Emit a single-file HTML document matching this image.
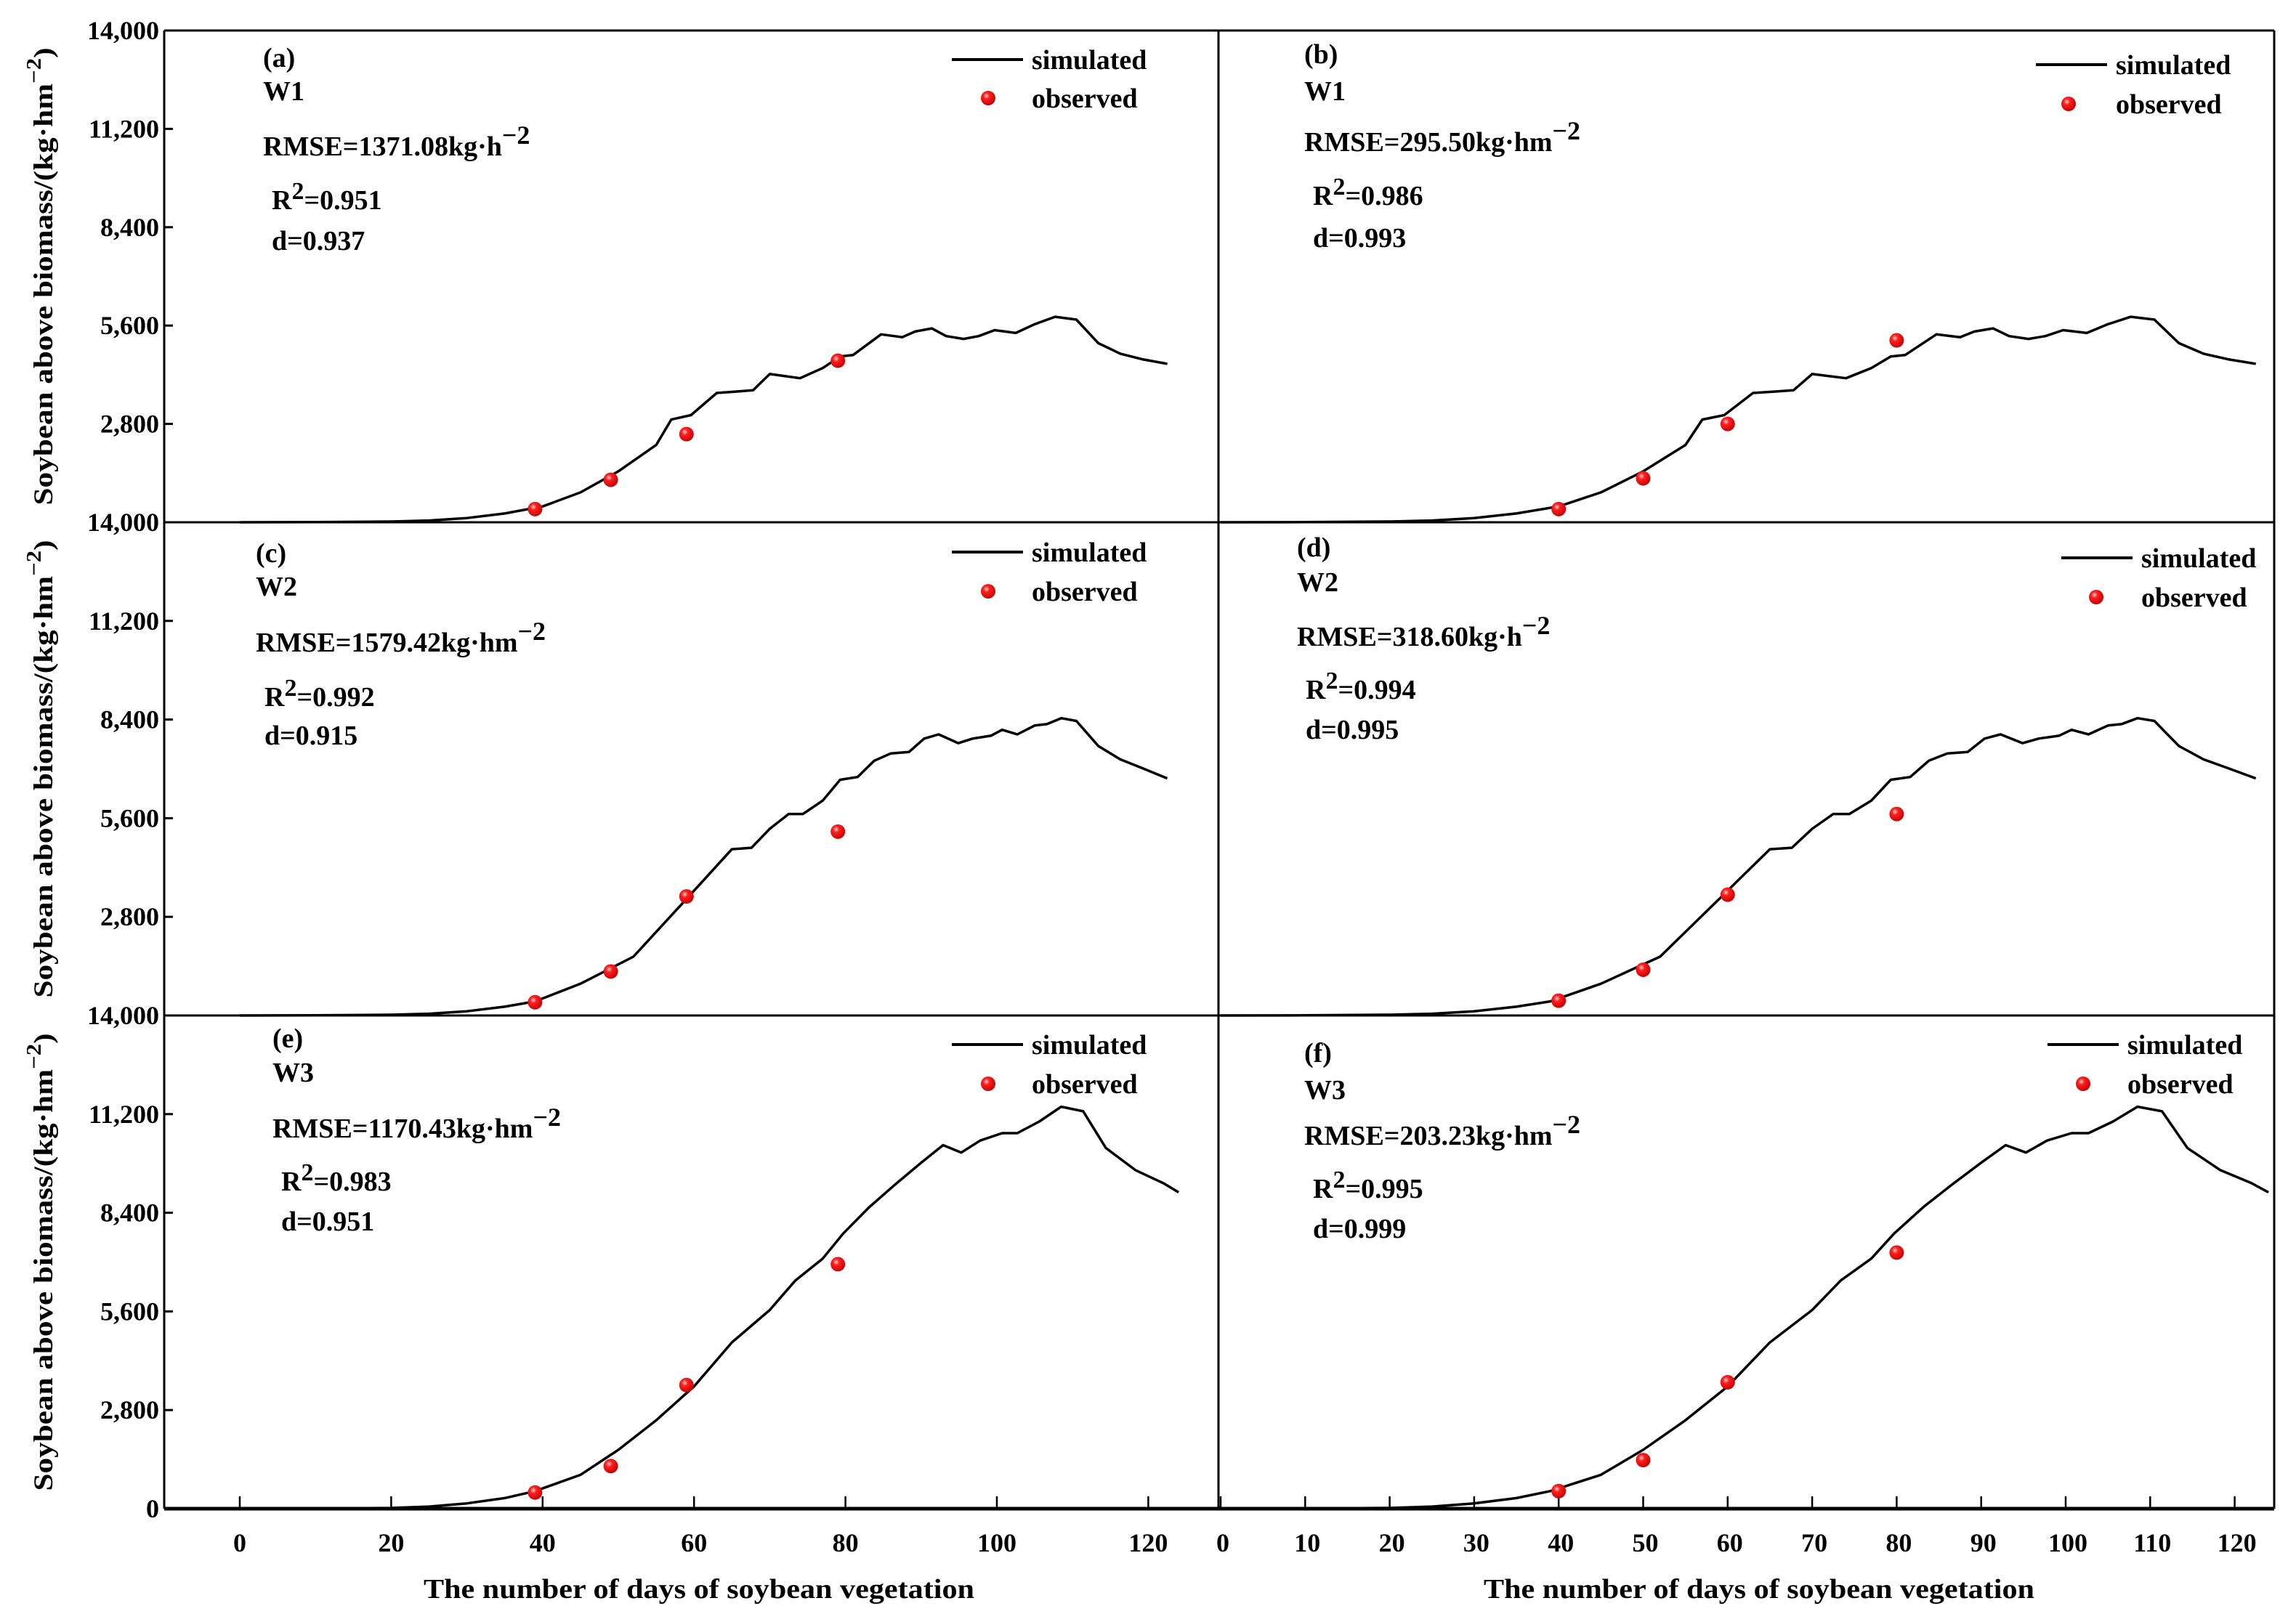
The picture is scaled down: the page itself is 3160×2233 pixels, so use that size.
<!DOCTYPE html>
<html><head><meta charset="utf-8"><style>
html,body{margin:0;padding:0;background:#fff}
svg{display:block}
text{font-family:"Liberation Serif","DejaVu Serif",serif;font-weight:bold;fill:#000}
</style></head><body>
<svg id="chart" width="3160" height="2233" viewBox="0 0 3160 2233" xmlns="http://www.w3.org/2000/svg">
<defs>
<radialGradient id="ball" cx="0.38" cy="0.35" r="0.7">
<stop offset="0" stop-color="#ffd0d0"/><stop offset="0.3" stop-color="#ff2020"/><stop offset="1" stop-color="#c00000"/>
</radialGradient>
</defs>
</svg>
<script>
// ---- data ----
const simDays1 = [0,10,20,25,30,35,40,45,50,55,57,59.6,63,65.5,67.8,70,74,77,79.3,81,84.7,87.5,89.2,91.4,93.3,95.6,97.6,99.7,102.5,105,107.7,110.5,113.4,116.3,119.2,122.5];
const simW1 = [0,5,20,50,120,250,450,850,1450,2200,2925,3050,3680,3720,3760,4220,4100,4390,4720,4760,5350,5270,5430,5520,5300,5220,5300,5470,5390,5640,5850,5770,5100,4800,4640,4510];
const simDays2 = [0,10,20,25,30,35,39,45,52,58.8,65,67.6,70,72.5,74.4,77,79.3,81.6,83.8,86,88.4,90.4,92.3,94.9,96.8,99.2,100.7,102.7,105,106.6,108.5,110.5,113.4,116.3,119.2,122.5];
const simW2 = [0,5,20,50,120,250,400,900,1670,3260,4720,4760,5300,5720,5720,6100,6690,6770,7230,7440,7480,7860,7980,7730,7860,7940,8110,7980,8230,8270,8440,8360,7650,7270,7020,6730];
const simDays3 = [0,10,20,25,30,35,39,45,50,55,60,65,70,73.4,77,79.7,83.2,86.5,90,92.9,95.3,97.8,100.7,102.7,105.6,108.5,111.4,114.4,118.3,122,124];
const simW3 = [0,5,20,60,150,300,500,960,1670,2510,3470,4720,5640,6480,7100,7810,8570,9190,9820,10320,10110,10450,10660,10660,10990,11410,11280,10240,9610,9240,8980];
const obsDaysL = [39,49,59,79];
const obsDaysR = [40,50,60,80];
const obsA = [376,1210,2510,4600];
const obsB = [376,1250,2800,5180];
const obsC = [376,1250,3380,5220];
const obsD = [420,1300,3430,5720];
const obsE = [460,1210,3510,6940];
const obsF = [500,1380,3590,7270];
const yTicks = [0,2800,5600,8400,11200,14000];
const yTickLabels = ["0","2,800","5,600","8,400","11,200","14,000"];
const xTicksL = [0,20,40,60,80,100,120];
const xTicksR = [0,10,20,30,40,50,60,70,80,90,100,110,120];

const svg = document.getElementById('chart');
const NS = 'http://www.w3.org/2000/svg';
function mk(tag, attrs, parent){ const e=document.createElementNS(NS,tag); for(const k in attrs) e.setAttribute(k,attrs[k]); (parent||svg).appendChild(e); return e; }

const rows = [[42,719],[719,1398],[1398,2077]];
const X0 = 226, XM = 1677, X1 = 3130;
function xL(d){ return 330 + d*10.42; }
function xR(d){ return 1680 + d*11.63; }
function yS(v,r){ return rows[r][1] - v/14000*(rows[r][1]-rows[r][0]); }

const panels = [
 {id:'a',row:0,side:'L',days:simDays1,sim:simW1,obs:obsA,w:'W1',rmse:'RMSE=1371.08kg·h',R:'0.951',d:'0.937',tx:362,ty:[92,138,214,288,344],leg:[1310,82,1360,135]},
 {id:'b',row:0,side:'R',days:simDays1,sim:simW1,obs:obsB,w:'W1',rmse:'RMSE=295.50kg·hm',R:'0.986',d:'0.993',tx:1795,ty:[87,138,208,282,340],leg:[2802,89,2847,143]},
 {id:'c',row:1,side:'L',days:simDays2,sim:simW2,obs:obsC,w:'W2',rmse:'RMSE=1579.42kg·hm',R:'0.992',d:'0.915',tx:352,ty:[774,820,897,972,1025],leg:[1310,760,1360,814]},
 {id:'d',row:1,side:'R',days:simDays2,sim:simW2,obs:obsD,w:'W2',rmse:'RMSE=318.60kg·h',R:'0.994',d:'0.995',tx:1785,ty:[766,814,889,962,1017],leg:[2837,768,2885,822]},
 {id:'e',row:2,side:'L',days:simDays3,sim:simW3,obs:obsE,w:'W3',rmse:'RMSE=1170.43kg·hm',R:'0.983',d:'0.951',tx:375,ty:[1442,1489,1566,1639,1694],leg:[1310,1438,1360,1492]},
 {id:'f',row:2,side:'R',days:simDays3,sim:simW3,obs:obsF,w:'W3',rmse:'RMSE=203.23kg·hm',R:'0.995',d:'0.999',tx:1795,ty:[1462,1513,1576,1649,1704],leg:[2818,1438,2867,1492]}
];

// frame
const fr = mk('g',{});


mk('line',{x1:X0,y1:42,x2:X1,y2:42,stroke:'#000','stroke-width':3},fr);
mk('line',{x1:X0,y1:42,x2:X0,y2:2077,stroke:'#000','stroke-width':3},fr);
mk('line',{x1:XM,y1:42,x2:XM,y2:2077,stroke:'#000','stroke-width':3},fr);
mk('line',{x1:X1,y1:42,x2:X1,y2:2077,stroke:'#000','stroke-width':3},fr);
mk('line',{x1:X0,y1:719,x2:X1,y2:719,stroke:'#000','stroke-width':3},fr);
mk('line',{x1:X0,y1:1398,x2:X1,y2:1398,stroke:'#000','stroke-width':3},fr);
mk('line',{x1:X0,y1:2077,x2:X1,y2:2077,stroke:'#000','stroke-width':5},fr);

// y axes
for(let r=0;r<3;r++){
  const ga = mk('g',{});
  
  
  yTicks.forEach((t,i)=>{
    if(t===0 && r<2) return;
    const y=yS(t,r);
    mk('line',{x1:X0,y1:y,x2:X0+12,y2:y,stroke:'#000','stroke-width':3},ga);
    const tl=mk('text',{x:219,y:y+12,'text-anchor':'end','font-size':36},ga);
    tl.textContent = yTickLabels[i];
  });
  const cy=(rows[r][0]+rows[r][1])/2;
  const yt=mk('text',{x:0,y:0,'font-size':37,'text-anchor':'middle',transform:'translate(72,'+cy+') rotate(-90)',textLength:630,lengthAdjust:'spacingAndGlyphs'},ga);
  
  
  yt.innerHTML='Soybean above biomass/(kg·hm<tspan dy="-16" font-size="28">−2</tspan><tspan dy="16">)</tspan>';
}

// x axes
const gxl=mk('g',{});


xTicksL.forEach(t=>{
  const x=xL(t);
  mk('line',{x1:x,y1:2077,x2:x,y2:2060,stroke:'#000','stroke-width':2.5},gxl);
  const tl=mk('text',{x:x,y:2136,'text-anchor':'middle','font-size':36},gxl);
  tl.textContent=t;
});
const gxr=mk('g',{});


xTicksR.forEach(t=>{
  const x=xR(t);
  mk('line',{x1:x,y1:2077,x2:x,y2:2060,stroke:'#000','stroke-width':2.5},gxr);
  const tl=mk('text',{x:x+3,y:2136,'text-anchor':'middle','font-size':36},gxr);
  tl.textContent=t;
});
const xt1=mk('text',{x:962,y:2200,'text-anchor':'middle','font-size':38,textLength:758,lengthAdjust:'spacingAndGlyphs'});


xt1.textContent='The number of days of soybean vegetation';
const xt2=mk('text',{x:2421,y:2200,'text-anchor':'middle','font-size':38,textLength:758,lengthAdjust:'spacingAndGlyphs'});


xt2.textContent='The number of days of soybean vegetation';

// panels
panels.forEach(p=>{
  const xf = p.side==='L'?xL:xR;
  const g=mk('g',{});
  
  
  const pts=p.days.map((d,i)=>xf(d).toFixed(1)+','+yS(p.sim[i],p.row).toFixed(1)).join(' ');
  const pl=mk('polyline',{points:pts,fill:'none',stroke:'#000','stroke-width':3.5,'stroke-linejoin':'round'},g);
  
  
  const od = p.side==='L'?obsDaysL:obsDaysR;
  p.obs.forEach((v,i)=>{
    const c=mk('circle',{cx:xf(od[i]),cy:yS(v,p.row),r:10,fill:'url(#ball)'},g);
    
    
  });
  const fs=38, ty=p.ty;
  const t1=mk('text',{x:p.tx,y:ty[0],'font-size':fs},g);
  
  
  t1.textContent='('+p.id+')';
  const t2=mk('text',{x:p.tx,y:ty[1],'font-size':fs},g);
  
  
  t2.textContent=p.w;
  const t3=mk('text',{x:p.tx,y:ty[2],'font-size':fs},g);
  
  
  t3.innerHTML=p.rmse+'<tspan dy="-16" font-size="36">−2</tspan>';
  const t4=mk('text',{x:p.tx+12,y:ty[3],'font-size':fs},g);
  
  
  t4.innerHTML='R<tspan dy="-14" font-size="34">2</tspan><tspan dy="14">='+p.R+'</tspan>';
  const t5=mk('text',{x:p.tx+12,y:ty[4],'font-size':fs},g);
  
  
  t5.textContent='d='+p.d;
  const L=p.leg;
  const lg=mk('g',{},g);
  
  
  mk('line',{x1:L[0],y1:L[1],x2:L[0]+98,y2:L[1],stroke:'#000','stroke-width':4},lg);
  const ls=mk('text',{x:L[0]+110,y:L[1]+13,'font-size':38},lg);
  
  
  ls.textContent='simulated';
  mk('circle',{cx:L[2],cy:L[3],r:10,fill:'url(#ball)'},lg);
  const lo=mk('text',{x:L[0]+110,y:L[3]+13,'font-size':38},lg);
  
  
  lo.textContent='observed';
});
</script>
</body></html>
